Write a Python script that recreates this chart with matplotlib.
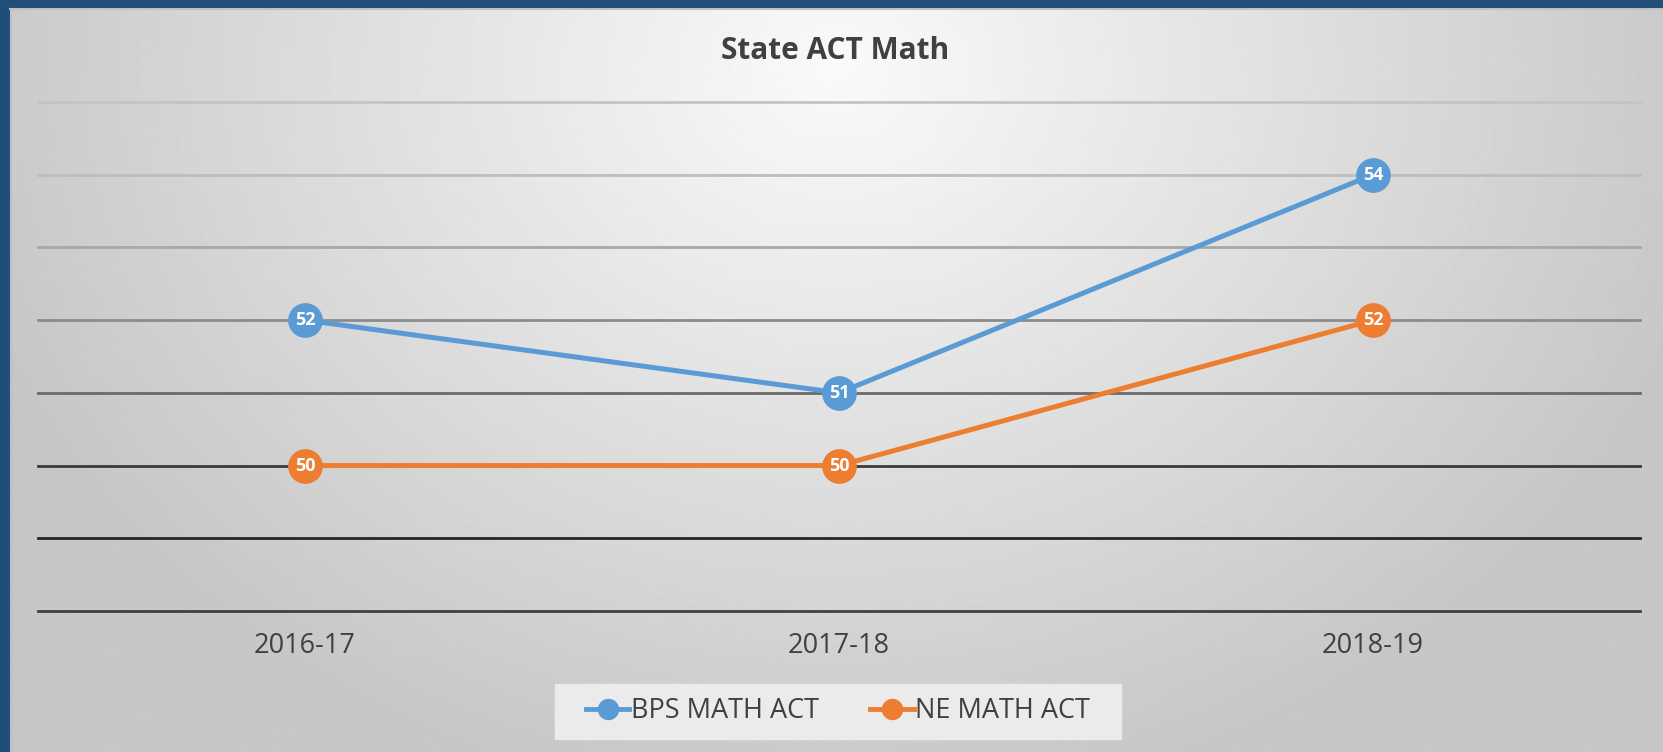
import numpy as np
import matplotlib
matplotlib.use('Agg')
import matplotlib.pyplot as plt
from matplotlib.patches import Rectangle

# chart data
years = ['2016-17', '2017-18', '2018-19']
bps_math = [52, 51, 54]
ne_math = [50, 50, 52]
grid_levels = [48, 49, 50, 51, 52, 53, 54, 55]
grid_colors = ['#404040', '#262626', '#3a3a3a', '#6a6a6a', '#8c8c8c', '#a8a8a8', '#bdbdbd', '#c4c4c4']

W, H = 1663, 752
fig = plt.figure(figsize=(W / 100, H / 100), dpi=100)

# background: dark blue frame + radial gray gradient
bg = fig.add_axes([0, 0, 1, 1])
bg.axis('off')
bg.add_patch(Rectangle((0, 0), W, H, color='#1f4e79', zorder=0))
yy, xx = np.mgrid[0:H, 0:W]
r = np.sqrt(((xx - 830) / 900.0) ** 2 + ((yy - 60) / 750.0) ** 2)
shade = np.clip(0.98 - 0.2 * r, 0.78, 0.98)
bg.imshow(shade, extent=(10, W, H, 8), cmap='gray', vmin=0, vmax=1,
          aspect='auto', zorder=1, interpolation='bilinear')
bg.plot([10, W], [9, 9], color='#c0c0c0', lw=1.5, zorder=2)
bg.plot([11, 11], [9, H], color='#c0c0c0', lw=1.5, zorder=2)
# legend backdrop
bg.add_patch(Rectangle((555, 684), 1121 - 555, 739 - 684, color='#ebebeb', zorder=2))
bg.set_xlim(0, W)
bg.set_ylim(H, 0)

ax = fig.add_axes([38 / W, 1 - 611 / H, (1640 - 38) / W, (611 - 102) / H])
ax.set_facecolor('none')
ax.set_xlim(-0.5, 2.5)
ax.set_ylim(48, 55)
for lvl, c in zip(grid_levels, grid_colors):
    ax.axhline(lvl, color=c, lw=2, zorder=1, clip_on=False)
for s in ax.spines.values():
    s.set_visible(False)
ax.set_yticks([])
x = np.arange(len(years))
ax.set_xticks(x)
ax.set_xticklabels(years, fontsize=19.5, color='#404040', family='Open Sans')
ax.tick_params(axis='x', length=0, pad=15)

series = [('BPS MATH ACT', bps_math, '#5b9bd5'), ('NE MATH ACT', ne_math, '#ed7d31')]
for name, vals, col in series:
    ax.plot(x, vals, color=col, lw=3.6, marker='o', markersize=24, label=name,
            zorder=3, clip_on=False)
    for xi, v in zip(x, vals):
        ax.text(xi, v, str(v), color='white', fontsize=13, fontweight='bold',
                ha='center', va='center', zorder=4, family='Open Sans')

fig.text(835 / W, 1 - 51 / H, 'State ACT Math', fontsize=21.5, fontweight='bold',
         color='#404040', ha='center', va='center', family='Open Sans')

leg = fig.legend(loc='center', bbox_to_anchor=(838 / W, 1 - 711 / H), ncol=2,
                 frameon=False, handlelength=1.6, markerscale=0.6,
                 columnspacing=1.9, handletextpad=0.05, borderpad=0.3,
                 prop={'family': 'Open Sans', 'size': 19.5})
for t in leg.get_texts():
    t.set_color('#404040')
for h in leg.legend_handles:
    h.set_linewidth(3.5)

fig.savefig('out.png', dpi=100)
